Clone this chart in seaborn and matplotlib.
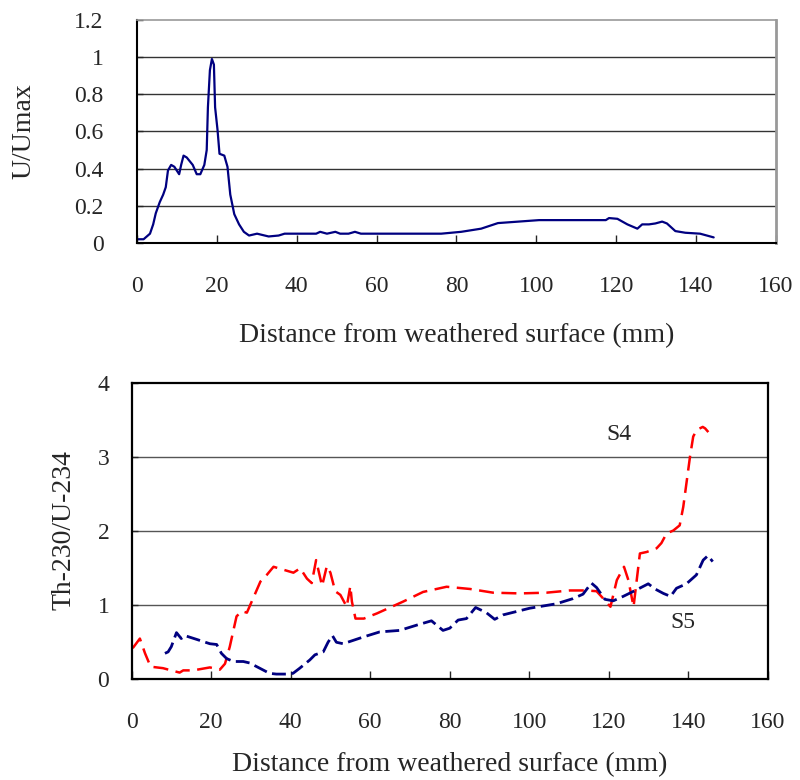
import matplotlib
matplotlib.use("Agg")
import matplotlib.pyplot as plt
import seaborn as sns
import pandas as pd

# U/Umax profile
top_x = [0, 1.7, 3.3, 4.1, 4.75, 5.75, 6.6, 7.25, 7.8, 8.6, 9.4, 10.6, 11.1, 11.7, 12.5,
         14, 15, 15.9, 16.9, 17.5, 17.8, 18.3, 18.8, 19.3, 19.6, 20.2, 20.7, 21.9, 22.7,
         23.4, 24.4, 25.6, 26.8, 28.1, 30.1, 33, 35.5, 37, 44.9, 45.9, 47.6, 49.7, 50.9,
         53, 54.6, 56.1, 76.2, 81.2, 86.2, 90.4, 100.7, 117.4, 118.2, 120.3, 122.8, 125.3,
         126.5, 128.2, 129.8, 131.5, 132.7, 134.8, 137.3, 141, 144.4]
top_u = [0.02, 0.02, 0.05, 0.10, 0.16, 0.22, 0.26, 0.30, 0.39, 0.42, 0.41, 0.37, 0.42, 0.47,
         0.46, 0.42, 0.37, 0.37, 0.42, 0.50, 0.73, 0.93, 0.99, 0.96, 0.73, 0.61, 0.48, 0.47,
         0.41, 0.26, 0.155, 0.10, 0.06, 0.04, 0.05, 0.035, 0.04, 0.05, 0.05, 0.06, 0.05,
         0.06, 0.05, 0.05, 0.06, 0.05, 0.05, 0.06, 0.077, 0.107, 0.123, 0.123, 0.134, 0.13,
         0.10, 0.077, 0.10, 0.10, 0.105, 0.115, 0.105, 0.064, 0.055, 0.05, 0.03]

# Th-230/U-234 profiles
s4_x = [0.3, 2.1, 3.4, 4.8, 7.9, 12.1, 13, 15.5, 19.7, 22.2, 23.5, 24.7, 26.4, 27.7, 29,
        30.7, 32.4, 34, 35.7, 38.2, 40.7, 42.4, 44.1, 45.3, 46.4, 47.9, 49.1, 50, 51.2,
        52.5, 54.1, 55, 55.4, 56.3, 58.4, 61.7, 68.3, 73.3, 79.2, 85.1, 90.9, 97.6, 104.3,
        110.2, 114.4, 116.9, 118.6, 120.4, 122, 123.8, 124.9, 126.2, 127, 127.8, 129.5,
        132, 133.2, 134.5, 136.2, 137.8, 138.7, 139.5, 140.4, 141.2, 142.1, 143.6, 144.2, 145]
s4_ratio = [0.41, 0.54, 0.34, 0.16, 0.14, 0.08, 0.11, 0.11, 0.15, 0.12, 0.20, 0.43, 0.84,
            0.91, 0.89, 1.10, 1.31, 1.40, 1.51, 1.47, 1.43, 1.49, 1.35, 1.29, 1.60, 1.25,
            1.52, 1.43, 1.18, 1.13, 0.97, 1.25, 1.04, 0.81, 0.81, 0.88, 1.04, 1.17, 1.24,
            1.21, 1.16, 1.15, 1.16, 1.19, 1.19, 1.18, 1.08, 0.97, 1.33, 1.51, 1.33, 0.97,
            1.33, 1.69, 1.71, 1.76, 1.83, 1.96, 2.0, 2.07, 2.32, 2.64, 3.0, 3.27, 3.36, 3.40,
            3.38, 3.33]

s5_x = [8.4, 9.2, 10, 11.3, 12.5, 13.4, 16.3, 19.7, 21.4, 22.6, 23.9, 25.6, 28.1, 29.7,
        32.2, 34.7, 36.4, 38.9, 40.6, 42.3, 44.8, 46.1, 48.2, 49.4, 50.5, 51.5, 53.2, 58.2,
        62.4, 67.4, 71.6, 75.4, 78.3, 80, 82.1, 84.2, 86.5, 89.2, 91.3, 93.4, 100.1, 106.8,
        111, 113.5, 115.6, 116.9, 119, 121.1, 123.6, 127, 129.9, 131.6, 133.7, 135.5, 137,
        139.5, 142, 143.7, 144.9, 146.1]
s5_ratio = [0.34, 0.36, 0.43, 0.62, 0.54, 0.58, 0.53, 0.47, 0.46, 0.34, 0.27, 0.23, 0.23,
            0.21, 0.14, 0.07, 0.06, 0.06, 0.07, 0.14, 0.25, 0.32, 0.36, 0.49, 0.58, 0.49,
            0.47, 0.56, 0.63, 0.65, 0.72, 0.78, 0.65, 0.68, 0.79, 0.81, 0.96, 0.89, 0.80,
            0.86, 0.95, 1.01, 1.08, 1.14, 1.29, 1.23, 1.07, 1.05, 1.11, 1.20, 1.28, 1.21,
            1.15, 1.11, 1.22, 1.28, 1.40, 1.60, 1.66, 1.58]

x_label = "Distance from weathered surface (mm)"

sns.set_style("white")
plt.rcParams["font.family"] = ["Liberation Serif", "DejaVu Serif"]

fig = plt.figure(figsize=(8, 7.8), dpi=100)
ax1 = fig.add_axes([0.171, 0.6885, 0.799, 0.2859])
ax2 = fig.add_axes([0.1644, 0.1301, 0.7956, 0.3795])

navy = "#000080"

# top panel
df_top = pd.DataFrame({"x": top_x, "u": top_u})
sns.lineplot(data=df_top, x="x", y="u", ax=ax1, color=navy, lw=1.6,
             estimator=None, sort=False)
ax1.set_xlim(0, 160)
ax1.set_ylim(0, 1.2)
ax1.set_xticks(range(0, 161, 20))
ax1.set_yticks([0, 0.2, 0.4, 0.6, 0.8, 1.0, 1.2])
ax1.set_yticklabels(["0", "0.2", "0.4", "0.6", "0.8", "1", "1.2"])
for v in [0.2, 0.4, 0.6, 0.8, 1.0]:
    ax1.axhline(v, color="#333333", lw=1, zorder=0)
ax1.spines["left"].set_color("black")
ax1.spines["bottom"].set_color("black")
ax1.spines["left"].set_linewidth(1.5)
ax1.spines["bottom"].set_linewidth(1.5)
ax1.spines["top"].set_color("#999999")
ax1.spines["right"].set_color("#999999")
ax1.spines["top"].set_linewidth(1.2)
ax1.spines["right"].set_linewidth(2)
ax1.tick_params(axis="x", direction="in", length=6, width=1, pad=24, labelsize=17,
                bottom=True, left=False)
ax1.tick_params(axis="y", direction="in", length=4, width=1, pad=24, labelsize=17,
                left=True)
ax1.set_xlabel(x_label, fontsize=20)
ax1.set_ylabel("U/Umax", fontsize=20)
ax1.xaxis.set_label_coords(0.5, -0.417)
ax1.xaxis.label.set_va("center")
ax1.yaxis.set_label_coords(-0.176, 0.5)
ax1.yaxis.label.set_va("center")

# bottom panel
df_s4 = pd.DataFrame({"x": s4_x, "r": s4_ratio})
df_s5 = pd.DataFrame({"x": s5_x, "r": s5_ratio})
sns.lineplot(data=df_s4, x="x", y="r", ax=ax2, color="#FF0000", lw=1.8,
             estimator=None, sort=False, dashes=False, linestyle=(0, (6, 3)))
sns.lineplot(data=df_s5, x="x", y="r", ax=ax2, color=navy, lw=2,
             estimator=None, sort=False, dashes=False, linestyle=(0, (5, 2)))
ax2.set_xlim(0, 160)
ax2.set_ylim(0, 4)
ax2.set_xticks(range(0, 161, 20))
ax2.set_yticks([0, 1, 2, 3, 4])
for v in [1, 2, 3]:
    ax2.axhline(v, color="#555555", lw=1, zorder=0)
for s in ax2.spines.values():
    s.set_color("black")
    s.set_linewidth(1.6)
ax2.tick_params(axis="x", direction="in", length=6, width=1, pad=24, labelsize=17,
                bottom=True)
ax2.tick_params(axis="y", direction="in", length=4, width=1, pad=16, labelsize=17,
                left=True)
ax2.set_xlabel(x_label, fontsize=20)
ax2.set_ylabel("Th-230/U-234", fontsize=20)
ax2.xaxis.set_label_coords(0.5, -0.29)
ax2.xaxis.label.set_va("center")
ax2.yaxis.set_label_coords(-0.106, 0.5)
ax2.yaxis.label.set_va("center")
ax2.text(122.5, 3.3, "S4", fontsize=17, ha="center", va="center")
ax2.text(138.6, 0.76, "S5", fontsize=17, ha="center", va="center")

fig.savefig("out.png", dpi=100)
